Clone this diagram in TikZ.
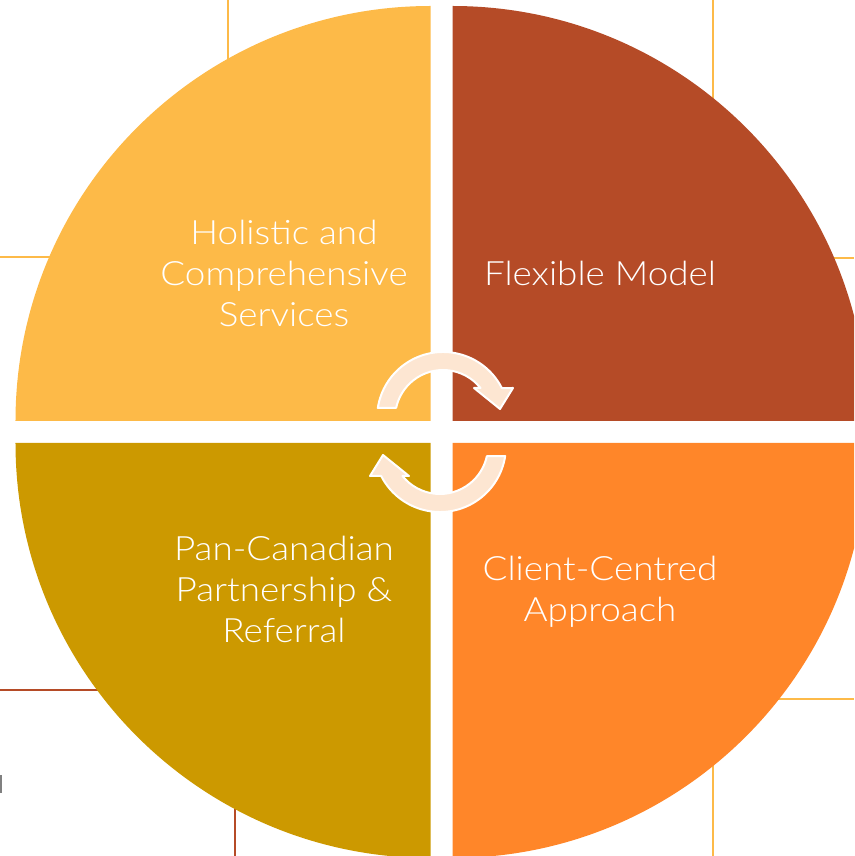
\documentclass[tikz,border=0pt]{standalone}
\usepackage{fontspec}
\setmainfont{Lato}[UprightFont=* Light, FakeStretch=1.1]
\usepackage{tikz}

\definecolor{sunny}{HTML}{FDBA48}
\definecolor{rust}{HTML}{B54B27}
\definecolor{mustard}{HTML}{CC9900}
\definecolor{tangerine}{HTML}{FF8629}
\definecolor{peach}{HTML}{FDE6D2}

\tikzset{
  pics/turnarrow/.style={code={
    \path[cyclearrow] (-65.2,10) arc[start angle=171.3, end angle=27, radius=66]
      -- (70,30) -- (57,9) -- (31,30) -- (37.5,30)
      arc[start angle=38.7, end angle=167.7, radius=48] -- cycle;
  }}
}

\begin{document}
\begin{tikzpicture}[x=1pt,y=1pt,
    quarter/.style={fill=#1},
    quadtext/.style={text=white, align=center, font=\fontsize{33.5}{41}\selectfont},
    cyclearrow/.style={fill=peach, draw=white, line width=2pt, line join=round},
    guide/.style={line width=2pt}]
  \useasboundingbox (-441.5,-424) rectangle (412.5,432);
  \clip (-441.5,-424) rectangle (412.5,432);

  % thin lines behind the circle
  \draw[guide, sunny] (-213.5,432) -- (-213.5,340);
  \draw[guide, sunny] (271.5,432) -- (271.5,300);
  \draw[guide, sunny] (-441.5,175) -- (-370,175);
  \draw[guide, sunny] (370,174) -- (412.5,174);
  \draw[guide, rust] (-441.5,-258) -- (-320,-258);
  \draw[guide, sunny] (320,-267) -- (412.5,-267);
  \draw[guide, rust] (-206.5,-350) -- (-206.5,-424);
  \draw[guide, sunny] (271.5,-300) -- (271.5,-424);
  \draw[line width=2pt, gray] (-440.5,-343) -- (-440.5,-361);

  % the four quarters
  \fill[quarter=sunny] (-11,11) -- (-426,11) arc[start angle=180, end angle=90, radius=415] -- cycle;
  \fill[quarter=rust] (11,11) -- (11,426) arc[start angle=90, end angle=0, radius=415] -- cycle;
  \fill[quarter=mustard] (-11,-11) -- (-11,-426) arc[start angle=270, end angle=180, radius=415] -- cycle;
  \fill[quarter=tangerine] (11,-11) -- (426,-11) arc[start angle=0, end angle=-90, radius=415] -- cycle;

  \node[quadtext] (holistic) at (-157.5,159) {Holistic and\\Comprehensive\\Services};
  \node[quadtext] (flexible) at (158.5,159) {Flexible Model};
  \node[quadtext] (pancan) at (-157.5,-157) {Pan-Canadian\\Partnership \&\\Referral};
  \node[quadtext] (client) at (158.5,-159.5) {Client-Centred\\Approach};

  % turning arrows in the middle
  \pic at (1.5,14) {turnarrow};
  \pic[rotate=180] at (-1.5,-14) {turnarrow};
\end{tikzpicture}
\end{document}
